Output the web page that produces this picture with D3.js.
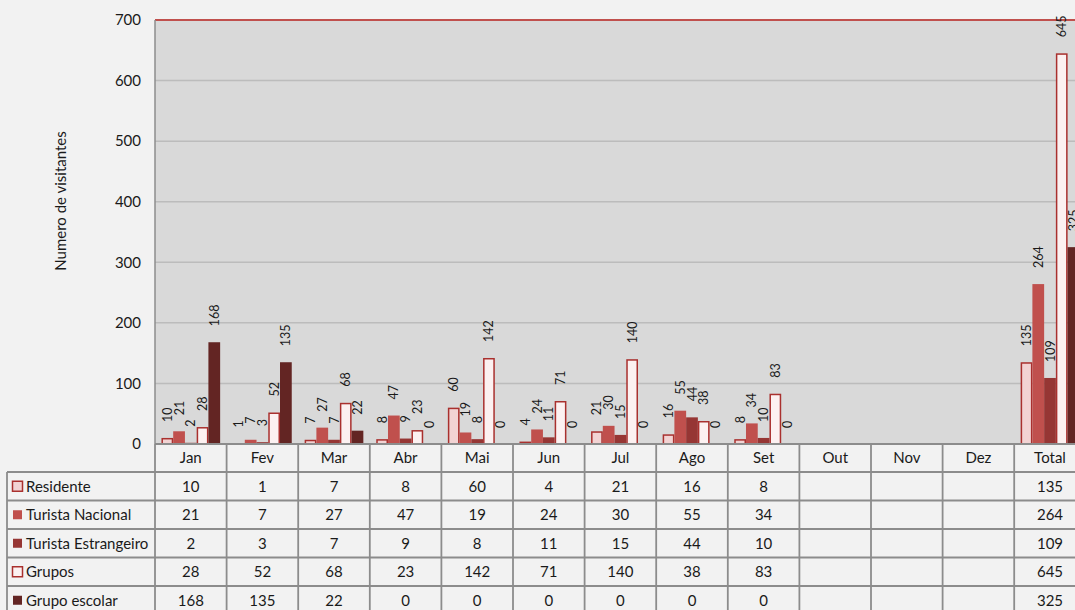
<!DOCTYPE html>
<html>
<head>
<meta charset="utf-8">
<script src="https://cdn.jsdelivr.net/npm/d3@7"></script>
<style>
	body { margin: 0; background: #f2f2f2; overflow: hidden; }
	svg { display: block; font-family: Lato, "Open Sans", sans-serif; }
</style>
</head>
<body>
<svg id="chart" width="1075" height="610"></svg>
<script>
// data
var months = ["Jan", "Fev", "Mar", "Abr", "Mai", "Jun", "Jul", "Ago", "Set", "Out", "Nov", "Dez", "Total"];
var seriesNames = ["Residente", "Turista Nacional", "Turista Estrangeiro", "Grupos", "Grupo escolar"];
var residente = [10, 1, 7, 8, 60, 4, 21, 16, 8, null, null, null, 135];
var turistaNacional = [21, 7, 27, 47, 19, 24, 30, 55, 34, null, null, null, 264];
var turistaEstrangeiro = [2, 3, 7, 9, 8, 11, 15, 44, 10, null, null, null, 109];
var grupos = [28, 52, 68, 23, 142, 71, 140, 38, 83, null, null, null, 645];
var grupoEscolar = [168, 135, 22, 0, 0, 0, 0, 0, 0, null, null, null, 325];
var yTicks = [0, 100, 200, 300, 400, 500, 600, 700];

var seriesValues = [residente, turistaNacional, turistaEstrangeiro, grupos, grupoEscolar];
var seriesStyle = [
	{ fill: "#f2d3d3", stroke: "#a9302e", key: "box" },
	{ fill: "#c0504d", stroke: "none", key: "solid" },
	{ fill: "#963634", stroke: "none", key: "solid" },
	{ fill: "#fcf1f1", stroke: "#a9302e", key: "box" },
	{ fill: "#632523", stroke: "none", key: "solid" }
];

var svg = d3.select("#chart");
var plotLeft = 155, plotTop = 20, plotBottom = 444;
var colWidth = 71.6;
var plotRight = plotLeft + colWidth * months.length;
var textSize = "15px";

// scales
var xScale = d3.scaleBand()
	.domain(months)
	.range([plotLeft, plotRight])
	.paddingInner(0)
	.paddingOuter(0);
var innerScale = d3.scaleBand()
	.domain(d3.range(seriesNames.length))
	.range([0, xScale.bandwidth()])
	.paddingOuter(0.55)
	.paddingInner(0);
var yScale = d3.scaleLinear()
	.domain([0, 700])
	.range([plotBottom, plotTop]);

// plot background
svg.append("rect")
	.attr("x", plotLeft)
	.attr("y", plotTop)
	.attr("width", plotRight - plotLeft)
	.attr("height", plotBottom - plotTop)
	.style("fill", "#d9d9d9");

// grid lines
svg.append("g")
	.attr("class", "grid")
	.selectAll("line")
	.data(yTicks.filter(function(d) { return d > 0 && d < 700; }))
	.enter()
	.append("line")
	.attr("x1", plotLeft)
	.attr("x2", plotRight)
	.attr("y1", function(d) { return yScale(d); })
	.attr("y2", function(d) { return yScale(d); })
	.style("stroke", "#bcbcbc")
	.style("stroke-width", 1.5);

// top line
svg.append("line")
	.attr("x1", plotLeft)
	.attr("x2", plotRight)
	.attr("y1", yScale(700))
	.attr("y2", yScale(700))
	.style("stroke", "#c0504d")
	.style("stroke-width", 1.8);

// y axis
var yAxis = d3.axisLeft(yScale)
	.tickValues(yTicks)
	.tickSize(0)
	.tickPadding(14);
var yAxisGroup = svg.append("g")
	.attr("class", "axis y")
	.attr("transform", "translate(" + plotLeft + ",0)")
	.call(yAxis);
yAxisGroup.select(".domain").remove();
yAxisGroup.selectAll("text")
	.style("font-size", textSize)
	.style("fill", "#1a1a1a")
	.style("font-family", "Lato, sans-serif");

svg.append("line")
	.attr("x1", plotLeft)
	.attr("x2", plotLeft)
	.attr("y1", plotTop)
	.attr("y2", plotBottom)
	.style("stroke", "#8c8c8c")
	.style("stroke-width", 1.5);

// y label
svg.append("text")
	.attr("transform", "translate(66,201) rotate(-90)")
	.style("text-anchor", "middle")
	.style("font-size", textSize)
	.style("fill", "#1a1a1a")
	.text("Numero de visitantes");

// bars
var seriesGroups = svg.selectAll(".series")
	.data(seriesValues)
	.enter()
	.append("g")
	.attr("class", "series");

seriesGroups.each(function(values, si) {
	var style = seriesStyle[si];
	var points = values.map(function(v, i) { return { month: months[i], value: v }; })
		.filter(function(d) { return d.value !== null; });
	var g = d3.select(this);
	var hasStroke = style.stroke !== "none";
	var inset = hasStroke ? 0.75 : 0;

	g.selectAll("rect")
		.data(points.filter(function(d) { return d.value > 0; }))
		.enter()
		.append("rect")
		.attr("x", function(d) { return xScale(d.month) + innerScale(si) + inset; })
		.attr("y", function(d) { return yScale(d.value) + inset; })
		.attr("width", innerScale.bandwidth() - inset * 2)
		.attr("height", function(d) { return Math.max(0, plotBottom - yScale(d.value) - inset); })
		.style("fill", style.fill)
		.style("stroke", style.stroke)
		.style("stroke-width", hasStroke ? 1.5 : 0);

	// labels sit a little above the bar, rotated
	g.selectAll("text")
		.data(points)
		.enter()
		.append("text")
		.attr("transform", function(d) {
			var cx = xScale(d.month) + innerScale(si) + innerScale.bandwidth() / 2;
			var cy = yScale(d.value) - 16;
			return "translate(" + cx + "," + cy + ") rotate(-90)";
		})
		.attr("dy", "0.36em")
		.style("text-anchor", "start")
		.style("font-size", "12.5px")
		.style("fill", "#1a1a1a")
		.text(function(d) { return d.value; });
});

// data table
var headerHeight = 28;
var rowHeight = 28.5;
var legendLeft = 7;
var table = svg.append("g").attr("class", "data-table");
var tableBottom = plotBottom + headerHeight + rowHeight * seriesNames.length;

table.selectAll(".month-label")
	.data(months)
	.enter()
	.append("text")
	.attr("class", "month-label")
	.attr("x", function(d) { return xScale(d) + xScale.bandwidth() / 2; })
	.attr("y", plotBottom + headerHeight / 2)
	.attr("dy", "0.35em")
	.style("text-anchor", "middle")
	.style("font-size", textSize)
	.style("fill", "#1a1a1a")
	.text(function(d) { return d; });

var rows = table.selectAll(".row")
	.data(seriesNames)
	.enter()
	.append("g")
	.attr("class", "row")
	.attr("transform", function(d, i) {
		return "translate(0," + (plotBottom + headerHeight + rowHeight * i) + ")";
	});

rows.each(function(name, si) {
	var row = d3.select(this);
	var style = seriesStyle[si];
	var values = seriesValues[si];

	if (style.key === "box") {
		row.append("rect")
			.attr("x", 12.5)
			.attr("y", rowHeight / 2 - 5)
			.attr("width", 10)
			.attr("height", 10)
			.style("fill", style.fill)
			.style("stroke", style.stroke)
			.style("stroke-width", 1.5);
	} else {
		row.append("rect")
			.attr("x", 13)
			.attr("y", rowHeight / 2 - 4.5)
			.attr("width", 9)
			.attr("height", 9)
			.style("fill", style.fill);
	}

	row.append("text")
		.attr("x", 26)
		.attr("y", rowHeight / 2)
		.attr("dy", "0.35em")
		.style("font-size", textSize)
		.style("fill", "#1a1a1a")
		.text(name);

	row.selectAll(".cell")
		.data(values)
		.enter()
		.append("text")
		.attr("class", "cell")
		.attr("x", function(d, i) { return xScale(months[i]) + xScale.bandwidth() / 2; })
		.attr("y", rowHeight / 2)
		.attr("dy", "0.35em")
		.style("text-anchor", "middle")
		.style("font-size", textSize)
		.style("fill", "#1a1a1a")
		.text(function(d) { return d === null ? "" : d; });
});

// table grid lines
var lineStyle = function(sel) {
	sel.style("stroke", "#8c8c8c").style("stroke-width", 1.8);
};
table.append("line")
	.attr("x1", plotLeft).attr("x2", plotRight)
	.attr("y1", plotBottom).attr("y2", plotBottom)
	.call(lineStyle);
table.selectAll(".hline")
	.data(d3.range(seriesNames.length + 1))
	.enter()
	.append("line")
	.attr("class", "hline")
	.attr("x1", legendLeft)
	.attr("x2", plotRight)
	.attr("y1", function(i) { return plotBottom + headerHeight + rowHeight * i; })
	.attr("y2", function(i) { return plotBottom + headerHeight + rowHeight * i; })
	.call(lineStyle);
table.selectAll(".vline")
	.data(months.concat(["end"]))
	.enter()
	.append("line")
	.attr("class", "vline")
	.attr("x1", function(d) { return d === "end" ? plotRight : xScale(d); })
	.attr("x2", function(d) { return d === "end" ? plotRight : xScale(d); })
	.attr("y1", plotBottom)
	.attr("y2", tableBottom)
	.call(lineStyle);
table.append("line")
	.attr("x1", legendLeft).attr("x2", legendLeft)
	.attr("y1", plotBottom + headerHeight).attr("y2", tableBottom)
	.call(lineStyle);
</script>
</body>
</html>
